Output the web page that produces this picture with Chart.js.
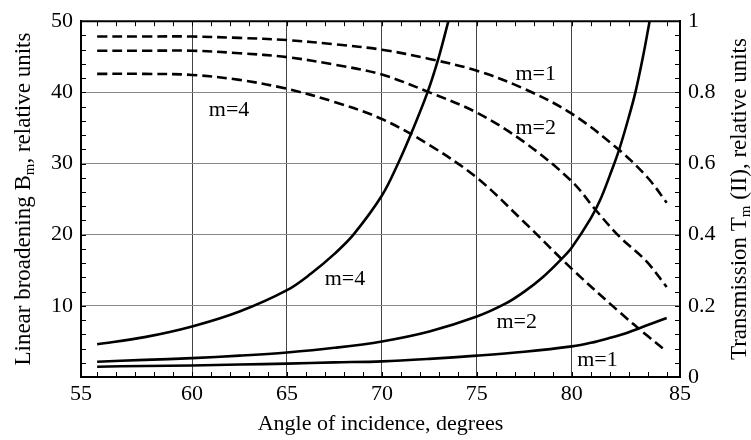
<!DOCTYPE html>
<html>
<head>
<meta charset="utf-8">
<script src="https://cdn.jsdelivr.net/npm/chart.js@4.4.1/dist/chart.umd.min.js"></script>
<style>
  html, body { margin: 0; padding: 0; background: #fff; }
  #wrap { width: 751px; height: 440px; }
</style>
</head>
<body>
<div id="wrap"><canvas id="chart" width="751" height="440"></canvas></div>
<script>
// angle of incidence (degrees) and linear broadening B_m (left axis)
const anglesB1 = [55, 57.5, 60, 62.5, 65, 67.5, 70, 72.5, 75, 77.5, 80, 81, 82, 83, 84, 85];
const broadM1 = [1.45, 1.55, 1.62, 1.75, 1.88, 2.05, 2.2, 2.55, 3.0, 3.55, 4.3, 4.8, 5.5, 6.3, 7.3, 8.3];

const anglesB2 = [55, 57.5, 60, 62.5, 65, 67.5, 70, 72.5, 75, 76.5, 77.5, 78.5, 79.5, 80, 81, 81.5, 82, 82.5, 83, 83.35, 83.75, 84.1];
const broadM2 = [2.15, 2.4, 2.65, 3.0, 3.45, 4.1, 5.0, 6.4, 8.5, 10.3, 12.0, 14.1, 16.7, 18.2, 22.3, 24.9, 28.3, 32.0, 36.5, 40, 45, 50];

const anglesB4 = [55, 57.5, 60, 62.5, 65, 66.25, 67.5, 68.5, 70, 70.85, 71.6, 72.4, 73, 73.5];
const broadM4 = [4.6, 5.6, 7.1, 9.2, 12.2, 14.5, 17.3, 20.0, 25.5, 30, 34.6, 40, 45, 50];

// transmission T_m (right axis)
const anglesT = [55, 57.5, 60, 62.5, 65, 67.5, 70, 72.5, 75, 77.5, 80, 82.5, 84, 85];
const transM1 = [0.957, 0.957, 0.957, 0.953, 0.947, 0.935, 0.92, 0.894, 0.861, 0.81, 0.74, 0.638, 0.56, 0.49];
const transM4 = [0.852, 0.852, 0.849, 0.835, 0.81, 0.773, 0.725, 0.652, 0.56, 0.435, 0.304, 0.183, 0.115, 0.072];

const anglesT2 = [55, 57.5, 60, 62.5, 65, 67.5, 70, 72.5, 75, 77.5, 80, 81.25, 82.5, 83.9, 85];
const transM2 = [0.917, 0.917, 0.917, 0.91, 0.899, 0.878, 0.85, 0.8, 0.743, 0.66, 0.55, 0.47, 0.395, 0.327, 0.253];

const xTicks = [60, 65, 70, 75, 80];
const leftTicks = [10, 20, 30, 40, 50];
const rightTicks = [0, 0.2, 0.4, 0.6, 0.8, 1];

// curve labels, in data units (angle, B_m)
const curveLabels = [
  { text: "m=1", x: 78.1, y: 42.5 },
  { text: "m=2", x: 78.1, y: 35.0 },
  { text: "m=4", x: 61.95, y: 37.5 },
  { text: "m=4", x: 68.05, y: 13.7 },
  { text: "m=2", x: 77.1, y: 7.7 },
  { text: "m=1", x: 81.35, y: 2.4 }
];

// the plot frame runs a little past 55 and 85, which are printed at its edges
const X_MIN = 54.15;
const X_MAX = 85.7;

const pts = (xs, ys) => xs.map((x, i) => ({ x: x, y: ys[i] }));

function line(data, axis, dashed) {
  return {
    data: data,
    yAxisID: axis,
    borderColor: "#000",
    borderWidth: 2.6,
    borderDash: dashed ? [10, 5] : [],
    pointRadius: 0,
    fill: false,
    tension: 0.35
  };
}

function drawVertical(ctx, cx, cy, before, sub, after) {
  const big = "23px 'Liberation Serif'";
  const small = "15px 'Liberation Serif'";
  ctx.save();
  ctx.translate(cx, cy);
  ctx.rotate(-Math.PI / 2);
  ctx.textBaseline = "alphabetic";
  ctx.textAlign = "left";
  ctx.font = big;
  const w1 = ctx.measureText(before).width;
  const w3 = ctx.measureText(after).width;
  ctx.font = small;
  const w2 = ctx.measureText(sub).width;
  let pos = -(w1 + w2 + w3) / 2;
  ctx.font = big;
  ctx.fillText(before, pos, 8);
  pos += w1;
  ctx.font = small;
  ctx.fillText(sub, pos, 12);
  pos += w2;
  ctx.font = big;
  ctx.fillText(after, pos, 8);
  ctx.restore();
}

const decorations = {
  id: "decorations",
  afterDraw(chart) {
    const { ctx, chartArea: a, scales } = chart;
    const xs = scales.x;
    const ys = scales.y;
    ctx.save();
    ctx.strokeStyle = "#000";
    ctx.lineWidth = 2;
    ctx.beginPath();
    ctx.moveTo(a.left - 1, a.top);
    ctx.lineTo(a.right + 1, a.top);
    ctx.stroke();

    // small inward ticks on all four sides
    ctx.lineWidth = 1;
    ctx.beginPath();
    for (let d = 55; d <= 85; d++) {
      const px = Math.round(xs.getPixelForValue(d)) + 0.5;
      ctx.moveTo(px, a.bottom);
      ctx.lineTo(px, a.bottom - 5);
      ctx.moveTo(px, a.top);
      ctx.lineTo(px, a.top + 5);
    }
    for (let v = 2; v < 50; v += 2) {
      const py = Math.round(ys.getPixelForValue(v)) + 0.5;
      ctx.moveTo(a.left, py);
      ctx.lineTo(a.left + 5, py);
      ctx.moveTo(a.right, py);
      ctx.lineTo(a.right - 5, py);
    }
    ctx.stroke();

    ctx.fillStyle = "#000";
    ctx.font = "22px 'Liberation Serif'";
    ctx.textAlign = "center";
    ctx.textBaseline = "middle";
    curveLabels.forEach(l => {
      ctx.fillText(l.text, xs.getPixelForValue(l.x), ys.getPixelForValue(l.y));
    });

    const midY = (a.top + a.bottom) / 2;
    drawVertical(ctx, 22, midY, "Linear broadening B", "m", ", relative units");
    drawVertical(ctx, 738, midY, "Transmission T", "m", " (II), relative units");
    ctx.restore();
  }
};

Chart.defaults.font.family = "'Liberation Serif', serif";
Chart.defaults.font.size = 22;
Chart.defaults.color = "#000";

new Chart("chart", {
  type: "line",
  data: {
    datasets: [
      line(pts(anglesB1, broadM1), "y", false),
      line(pts(anglesB2, broadM2), "y", false),
      line(pts(anglesB4, broadM4), "y", false),
      line(pts(anglesT, transM1), "y1", true),
      line(pts(anglesT2, transM2), "y1", true),
      line(pts(anglesT, transM4), "y1", true)
    ]
  },
  options: {
    responsive: false,
    animation: false,
    devicePixelRatio: 1,
    layout: { padding: { top: 18, left: 0, right: 0, bottom: 0 } },
    plugins: {
      legend: { display: false },
      tooltip: { enabled: false }
    },
    scales: {
      x: {
        type: "linear",
        min: X_MIN,
        max: X_MAX,
        afterBuildTicks: s => {
          s.ticks = [X_MIN].concat(xTicks, [X_MAX]).map(v => ({ value: v }));
        },
        afterFit: s => { s.height = 63; },
        ticks: {
          padding: 4,
          maxRotation: 0,
          autoSkip: false,
          callback: v => (v < 55 ? "55" : v > 85 ? "85" : String(v))
        },
        grid: {
          drawTicks: false,
          lineWidth: 1,
          color: c => (c.tick && c.tick.value > 56 && c.tick.value < 84 ? "#444" : "rgba(0,0,0,0)")
        },
        border: { color: "#000", width: 2 },
        title: {
          display: true,
          text: "Angle of incidence, degrees",
          font: { size: 22, lineHeight: 1.4 },
          padding: 0
        }
      },
      y: {
        position: "left",
        min: 0,
        max: 50,
        afterBuildTicks: s => { s.ticks = leftTicks.map(v => ({ value: v })); },
        afterFit: s => { s.width = 81; },
        ticks: { padding: 8 },
        grid: {
          drawTicks: false,
          lineWidth: 1,
          color: c => (c.tick && c.tick.value < 50 ? "#888" : "rgba(0,0,0,0)")
        },
        border: { color: "#000", width: 2 }
      },
      y1: {
        position: "right",
        min: 0,
        max: 1,
        afterBuildTicks: s => { s.ticks = rightTicks.map(v => ({ value: v })); },
        afterFit: s => { s.width = 71; },
        ticks: { padding: 8, callback: v => String(v) },
        grid: { display: false, drawTicks: false },
        border: { color: "#000", width: 2 }
      }
    }
  },
  plugins: [decorations]
});
</script>
</body>
</html>
